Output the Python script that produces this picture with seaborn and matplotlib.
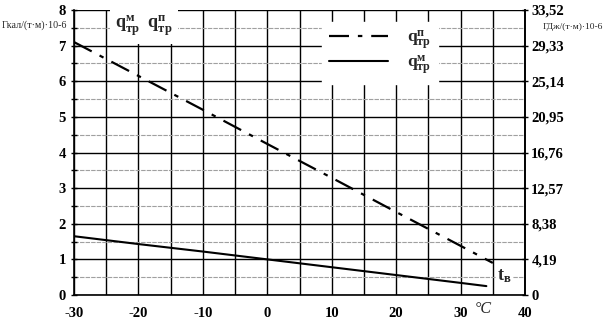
import matplotlib

matplotlib.use("Agg")

import matplotlib.pyplot as plt
import pandas as pd
import seaborn as sns
from matplotlib.ticker import MultipleLocator

# outdoor temperature, deg C
t_pipe = [-30, -20, -10, 0, 10, 20, 30, 35]
q_pipe = [7.1, 6.15, 5.2, 4.24, 3.29, 2.33, 1.38, 0.9]  # q_тр^п, dash-dot

t_main = [-30, -20, -10, 0, 10, 20, 30, 34]
q_main = [1.65, 1.43, 1.22, 1.0, 0.78, 0.56, 0.34, 0.25]  # q_тр^м, solid

left_ticks = [0, 1, 2, 3, 4, 5, 6, 7, 8]
right_labels = ["0", "4,19", "8,38", "12,57", "16,76", "20,95", "25,14", "29,33", "33,52"]
x_ticks = [-30, -20, -10, 0, 10, 20, 30, 40]

SERIF = ["Liberation Serif", "DejaVu Serif"]

sns.set_theme(style="white")
plt.rcParams["font.family"] = SERIF
plt.rcParams["axes.unicode_minus"] = False
plt.rcParams["mathtext.fontset"] = "custom"
plt.rcParams["mathtext.rm"] = "Liberation Serif"
plt.rcParams["mathtext.bf"] = "Liberation Serif:bold"
plt.rcParams["mathtext.it"] = "Liberation Serif:italic"

Q_P = r"$\mathbf{q}_{\mathbf{тр}}^{\mathbf{п}}$"
Q_M = r"$\mathbf{q}_{\mathbf{тр}}^{\mathbf{м}}$"


def draw_grid(ax) -> None:
    ax.set_xlim(-30, 40)
    ax.set_ylim(0, 8)
    ax.set_xticks(x_ticks)
    ax.xaxis.set_minor_locator(MultipleLocator(5))
    ax.set_yticks(left_ticks)
    ax.yaxis.set_minor_locator(MultipleLocator(0.5))
    ax.grid(which="major", axis="both", color="black", lw=1.0)
    ax.grid(which="minor", axis="x", color="black", lw=1.0)
    ax.grid(which="minor", axis="y", color="#a0a0a0", lw=0.8, ls=(0, (4, 1)))
    ax.tick_params(which="both", direction="inout", length=5, width=1, colors="black")
    ax.tick_params(axis="x", pad=6)
    for lbl in ax.get_xticklabels() + ax.get_yticklabels():
        lbl.set_fontweight("bold")
        lbl.set_fontsize(10.5)
    for sp in ax.spines.values():
        sp.set_color("black")
        sp.set_linewidth(1.2)
    ax.spines["top"].set_visible(False)
    ax.set_axisbelow(True)


def main() -> None:
    fig = plt.figure(figsize=(6.05, 3.25), dpi=100)
    ax = fig.add_axes([0.1223, 0.0923, 0.7455, 0.8769])

    df_p = pd.DataFrame({"t": t_pipe, "q": q_pipe})
    df_m = pd.DataFrame({"t": t_main, "q": q_main})
    sns.lineplot(data=df_p, x="t", y="q", ax=ax, color="black", lw=1.6,
                 label=Q_P, dashes=False)
    sns.lineplot(data=df_m, x="t", y="q", ax=ax, color="black", lw=1.5,
                 label=Q_M)
    ax.lines[0].set_dashes([9, 4, 2, 4])
    ax.set_xlabel("")
    ax.set_ylabel("")
    draw_grid(ax)

    leg = ax.legend(loc="upper left", bbox_to_anchor=(0.53, 0.99), frameon=True,
                    fontsize=12.5, handlelength=3.4, handletextpad=1.1,
                    borderpad=0.4, labelspacing=0.1, fancybox=False)
    leg.get_frame().set_facecolor("white")
    leg.get_frame().set_edgecolor("white")
    leg.get_frame().set_alpha(1)

    # series names in the upper-left corner
    ax.text(-23.6, 7.55, Q_M + "  " + Q_P, fontsize=13, ha="left", va="center",
            bbox=dict(facecolor="white", edgecolor="none", pad=4), zorder=5)

    ax.text(36.8, 0.52, r"$\mathbf{t}_{\mathbf{в}}$", fontsize=13, ha="center",
            va="center", bbox=dict(facecolor="white", edgecolor="none", pad=1), zorder=5)
    ax.text(33.5, -0.02, "°C", transform=ax.get_xaxis_transform(), fontsize=11.5,
            ha="center", va="top", style="italic")

    ax_r = ax.twinx()
    ax_r.set_ylim(0, 8)
    ax_r.set_yticks(left_ticks)
    ax_r.set_yticklabels(right_labels)
    ax_r.tick_params(axis="y", direction="inout", length=5, width=1, pad=2, colors="black")
    for lbl in ax_r.get_yticklabels():
        lbl.set_fontweight("bold")
        lbl.set_fontsize(10.5)
    for sp in ax_r.spines.values():
        sp.set_visible(False)
    ax_r.spines["right"].set_visible(True)
    ax_r.spines["right"].set_color("black")
    ax_r.spines["right"].set_linewidth(1.2)
    ax_r.grid(False)

    fig.text(0.003, 0.922, "Гкал/(т·м)·10-6", fontsize=7.2, ha="left", va="center")
    fig.text(0.897, 0.918, "ГДж/(т·м)·10-6", fontsize=6.8, ha="left", va="center")

    fig.savefig("out.png", dpi=100)
    plt.close(fig)


if __name__ == "__main__":
    main()
